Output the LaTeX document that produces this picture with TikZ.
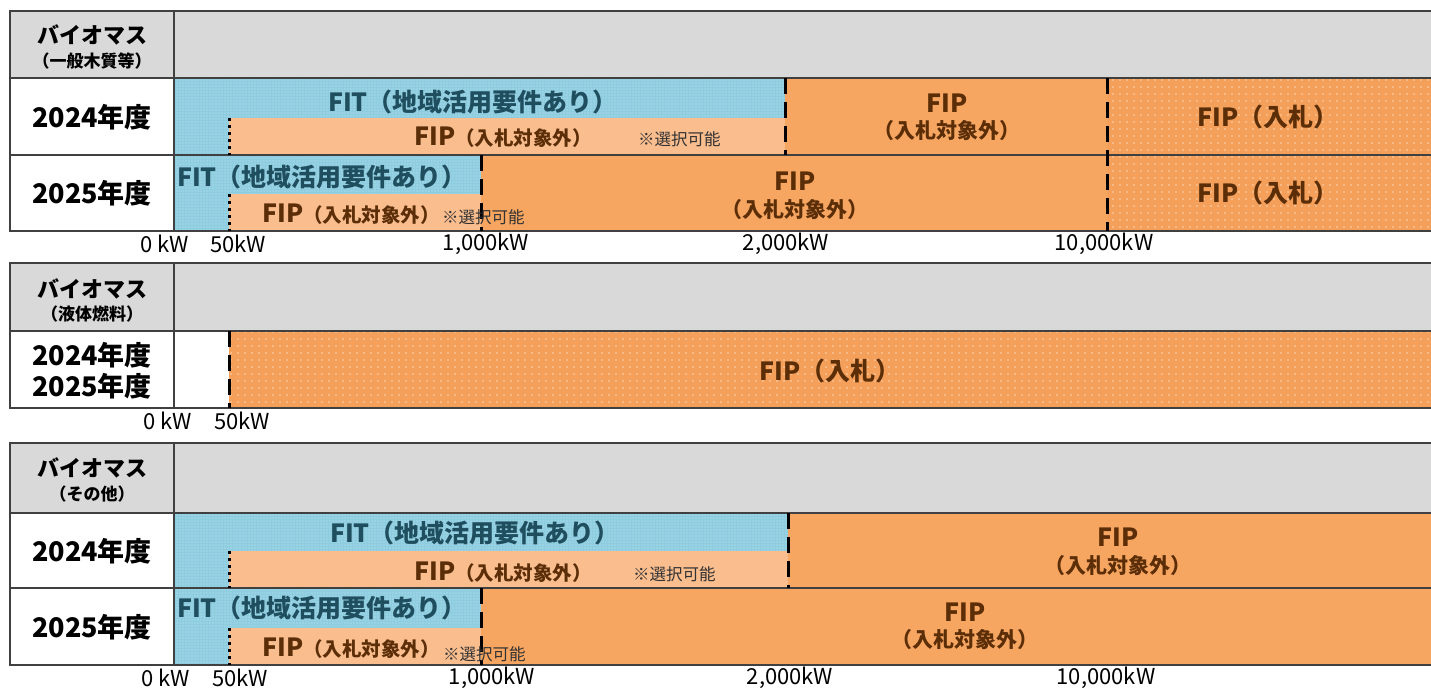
\documentclass[tikz,border=0pt]{standalone}
\usepackage{fontspec}
\setmainfont{Noto Sans CJK JP}
\usetikzlibrary{patterns.meta}
\definecolor{hdr}{HTML}{D9D9D9}
\definecolor{fitblue}{HTML}{8ECDE0}
\definecolor{fipL}{HTML}{F9BD8E}
\definecolor{fipO}{HTML}{F7A661}
\definecolor{fipB}{HTML}{F5A05A}
\definecolor{fittxt}{HTML}{1F4E5F}
\definecolor{fiptxt}{HTML}{5C2E08}
\definecolor{gridc}{HTML}{404040}
\tikzset{
  fitfill/.style={fill=fitblue, postaction={pattern={Dots[distance=3pt,radius=0.7pt]}, pattern color=white!45!fitblue}},
  bidfill/.style={fill=fipB, postaction={pattern={Dots[distance=7pt,radius=0.9pt]}, pattern color=white!55!fipB}},
  dashln/.style={line width=3pt, dash pattern=on 16pt off 8pt},
  dotln/.style={line width=3pt, dash pattern=on 3pt off 4pt},
  frame/.style={draw=gridc, line width=1.5pt},
  hd/.style={font=\fontsize{22}{24}\selectfont\bfseries},
  sub/.style={font=\fontsize{17}{19}\selectfont\bfseries},
  yr/.style={font=\fontsize{27}{29}\selectfont\bfseries},
  fitt/.style={text=fittxt, font=\fontsize{25}{27}\selectfont\bfseries},
  fipt/.style={text=fiptxt, font=\fontsize{25}{27}\selectfont\bfseries},
  fips/.style={text=fiptxt, font=\fontsize{21}{23}\selectfont\bfseries},
  note/.style={text=black!80, font=\fontsize{16.5}{18}\selectfont},
  ax/.style={font=\fontsize{22}{24}\selectfont},
  every node/.style={inner sep=0pt}
}
\newcommand{\fipmix}{FIP{\fontsize{19.5}{21}\selectfont（入札対象外）}}
\begin{document}
\begin{tikzpicture}[x=1pt,y=-1pt]
\useasboundingbox (0,0) rectangle (1431,689);
% ---------------- Panel 1 ----------------
\fill[hdr] (10,11) rectangle (1433,78);
\path[fitfill] (174,78) rectangle (785,155);
\fill[fipL] (229,118) rectangle (785,155);
\fill[fipO] (785,78) rectangle (1107,155);
\path[bidfill] (1107,78) rectangle (1433,231);
\path[fitfill] (174,155) rectangle (481,231);
\fill[fipL] (229,194) rectangle (481,231);
\fill[fipO] (481,155) rectangle (1107,231);
\draw[frame] (1433,11) -- (10,11) -- (10,231) -- (1433,231);
\draw[frame] (10,78) -- (1433,78);
\draw[frame] (10,155) -- (1433,155);
\draw[frame] (174,11) -- (174,231);
\draw[dashln] (785,78) -- (785,155);
\draw[dashln] (1107,78) -- (1107,231);
\draw[dashln] (481,155) -- (481,231);
\draw[dotln] (229,118) -- (229,155);
\draw[dotln] (229,194) -- (229,231);
\node[hd] (h1) at (92,35) {バイオマス};
\node[sub] (h1s) at (92,61) {（一般木質等）};
\node[yr] (y1a) at (92,117) {2024年度};
\node[yr] (y1b) at (92,193) {2025年度};
\node[fitt] (t1a) at (473,102) {FIT（地域活用要件あり）};
\node[fipt,anchor=west] (t1b) at (414,137) {\fipmix};
\node[note,anchor=west] (t1c) at (638,139) {※選択可能};
\node[fipt] (t1d) at (947,103) {FIP};
\node[fips] (t1e) at (947,131) {（入札対象外）};
\node[fipt] (t1f) at (1268,117) {FIP（入札）};
\node[fitt] (t1g) at (322,177) {FIT（地域活用要件あり）};
\node[fipt,anchor=west] (t1h) at (262,214) {\fipmix};
\node[note,anchor=west] (t1i) at (442,217) {※選択可能};
\node[fipt] (t1j) at (795,181) {FIP};
\node[fips] (t1k) at (795,210) {（入札対象外）};
\node[fipt] (t1l) at (1268,193) {FIP（入札）};
\node[ax] (a1a) at (165,244) {0 kW};
\node[ax] (a1b) at (238,244) {50kW};
\node[ax] (a1c) at (486,244) {1,000kW};
\node[ax] (a1d) at (786,244) {2,000kW};
\node[ax] (a1e) at (1104,244) {10,000kW};
% ---------------- Panel 2 ----------------
\fill[hdr] (10,263) rectangle (1433,331);
\path[bidfill] (229,331) rectangle (1433,408);
\draw[frame] (1433,263) -- (10,263) -- (10,408) -- (1433,408);
\draw[frame] (10,331) -- (1433,331);
\draw[frame] (174,263) -- (174,408);
\draw[dashln] (229,331) -- (229,408);
\node[hd] (h2) at (92,289) {バイオマス};
\node[sub] (h2s) at (92,314) {（液体燃料）};
\node[yr] (y2a) at (92,355) {2024年度};
\node[yr] (y2b) at (92,386) {2025年度};
\node[fipt] (t2a) at (830,371) {FIP（入札）};
\node[ax] (a2a) at (168,421) {0 kW};
\node[ax] (a2b) at (242,421) {50kW};
% ---------------- Panel 3 ----------------
\fill[hdr] (10,443) rectangle (1433,513);
\path[fitfill] (174,513) rectangle (788,588);
\fill[fipL] (229,551) rectangle (788,588);
\fill[fipO] (788,513) rectangle (1433,588);
\path[fitfill] (174,588) rectangle (481,665);
\fill[fipL] (229,628) rectangle (481,665);
\fill[fipO] (481,588) rectangle (1433,665);
\draw[frame] (1433,443) -- (10,443) -- (10,665) -- (1433,665);
\draw[frame] (10,513) -- (1433,513);
\draw[frame] (10,588) -- (1433,588);
\draw[frame] (174,443) -- (174,665);
\draw[dashln] (788,513) -- (788,588);
\draw[dashln] (481,588) -- (481,665);
\draw[dotln] (229,551) -- (229,588);
\draw[dotln] (229,628) -- (229,665);
\node[hd] (h3) at (92,468) {バイオマス};
\node[sub] (h3s) at (92,494) {（その他）};
\node[yr] (y3a) at (92,551) {2024年度};
\node[yr] (y3b) at (92,627) {2025年度};
\node[fitt] (t3a) at (475,533) {FIT（地域活用要件あり）};
\node[fipt,anchor=west] (t3b) at (414,572) {\fipmix};
\node[note,anchor=west] (t3c) at (633,574) {※選択可能};
\node[fipt] (t3d) at (1118,537) {FIP};
\node[fips] (t3e) at (1118,566) {（入札対象外）};
\node[fitt] (t3f) at (322,608) {FIT（地域活用要件あり）};
\node[fipt,anchor=west] (t3g) at (262,648) {\fipmix};
\node[note,anchor=west] (t3h) at (443,654) {※選択可能};
\node[fipt] (t3i) at (965,612) {FIP};
\node[fips] (t3j) at (965,640) {（入札対象外）};
\node[ax] (a3a) at (166,678) {0 kW};
\node[ax] (a3b) at (240,678) {50kW};
\node[ax] (a3c) at (492,678) {1,000kW};
\node[ax] (a3d) at (790,678) {2,000kW};
\node[ax] (a3e) at (1106,678) {10,000kW};
\end{tikzpicture}
\end{document}
